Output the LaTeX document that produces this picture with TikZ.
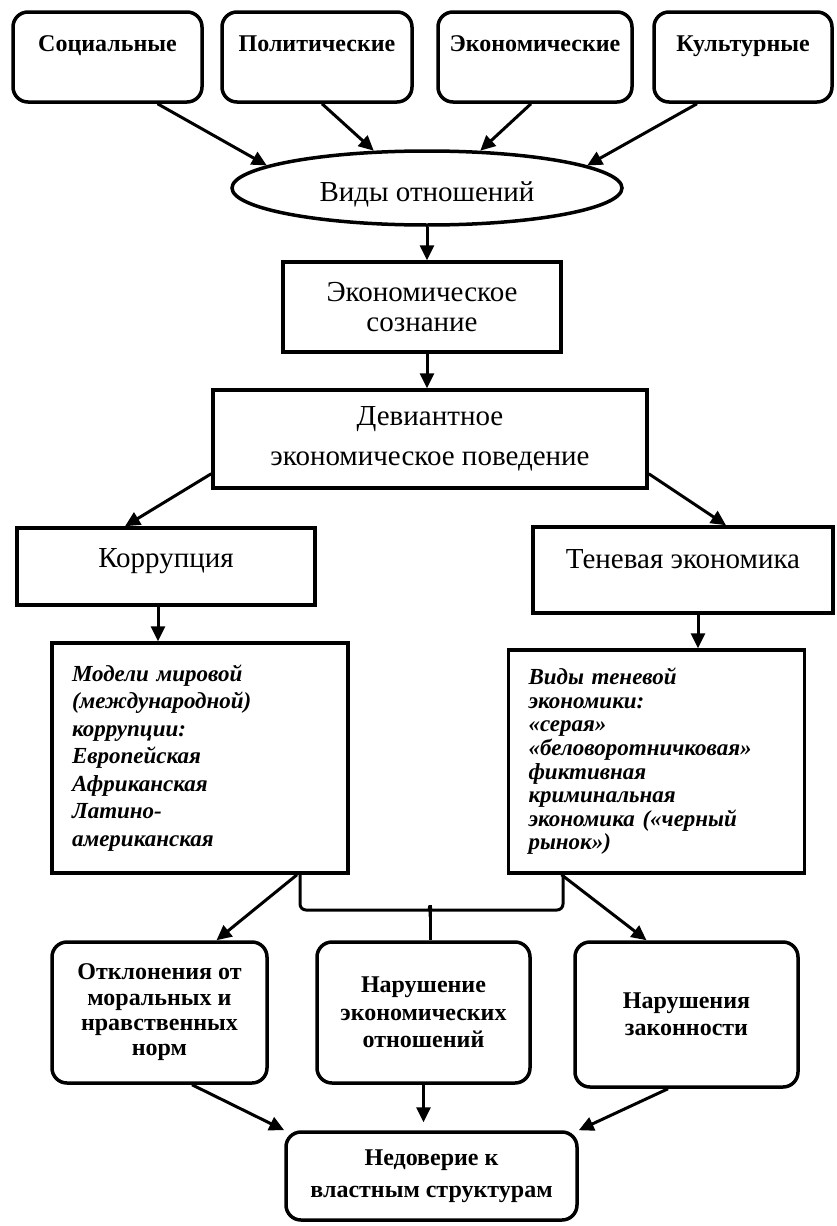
\documentclass[tikz,border=0pt]{standalone}
\usepackage{fontspec}
\setmainfont{Liberation Serif}
\usetikzlibrary{arrows.meta,shapes.geometric,calc}

\tikzset{
    topbox/.style={draw, line width=3.5pt, rounded corners=15pt, inner sep=0pt,
        font=\bfseries\fontsize{24}{26}\selectfont, text height=39pt, text depth=51pt},
    ovalbox/.style={draw, ellipse, line width=3.5pt, inner sep=0pt,
        minimum width=390pt, minimum height=74pt, font=\fontsize{29}{30}\selectfont},
    plainbox/.style={draw, line width=3.5pt, inner sep=0pt, align=center,
        font=\fontsize{29}{30}\selectfont},
    listbox/.style={draw, line width=3.5pt, inner xsep=20pt, inner ysep=0pt,
        text width=256pt, align=left},
    roundbox/.style={draw, line width=3.5pt, rounded corners=15pt, inner sep=0pt, align=center},
    arr/.style={line width=3pt, -{Triangle[length=15pt,width=14pt]}},
    conn/.style={line width=3pt}
}

\begin{document}
\begin{tikzpicture}[x=1pt, y=-1pt]
        \useasboundingbox (0,0) rectangle (837,1226);

        % Top row
        \node[topbox, minimum width=189pt] (soc) at (107.5,57) {Социальные};
        \node[topbox, minimum width=190pt] (pol) at (317,57) {Политические};
        \node[topbox, minimum width=194pt] (eco) at (535,57) {Экономические};
        \node[topbox, minimum width=178pt] (cul) at (743,57) {Культурные};

        % Middle column
        \node[ovalbox] (vid) at (427,188) {\raisebox{-13pt}[0pt][0pt]{Виды отношений}};
        \node[plainbox, minimum width=278pt, minimum height=90pt] (soz) at (422,307) {Экономическое\\сознание};
        \node[plainbox, minimum width=434pt, minimum height=98pt,
            font=\fontsize{29}{40}\selectfont] (dev) at (430,439) {Девиантное\\экономическое поведение};

        % Two branches
        \node[plainbox, minimum width=298pt, text height=39pt, text depth=38pt] (kor) at (166,566.5) {Коррупция};
        \node[plainbox, minimum width=300pt, text height=41pt, text depth=45pt] (ten) at (683,570) {Теневая экономика};

        \node[listbox, minimum height=230pt, font=\bfseries\itshape\fontsize{23}{27.5}\selectfont] (mod) at (200,758)
            {Модели мировой\\(международной)\\коррупции:\\Европейская\\Африканская\\Латино-\\американская};
        \node[listbox, minimum height=223pt, font=\bfseries\itshape\fontsize{23}{23.6}\selectfont] (vte) at (656.5,761.5)
            {Виды теневой\\экономики:\\«серая»\\«беловоротничковая»\\фиктивная\\криминальная\\экономика («черный\\рынок»)};

        % Consequences
        \node[roundbox, minimum width=215pt, minimum height=141pt,
            font=\bfseries\fontsize{24}{25.3}\selectfont] (otk) at (159.5,1012.5) {Отклонения от\\моральных и\\нравственных\\норм};
        \node[roundbox, minimum width=213pt, minimum height=141pt,
            font=\bfseries\fontsize{24}{27.7}\selectfont] (nar) at (423.5,1012.5) {Нарушение\\экономических\\отношений};
        \node[roundbox, minimum width=223pt, minimum height=145pt,
            font=\bfseries\fontsize{24}{27}\selectfont] (zak) at (686.5,1014.5) {Нарушения\\законности};
        \node[roundbox, minimum width=291pt, minimum height=88pt,
            font=\bfseries\fontsize{24}{32}\selectfont] (ned) at (431.5,1176) {Недоверие к\\властным структурам};

        % Arrows into the ellipse
        \draw[arr] ([xshift=50pt]soc.south) -- (vid.172);
        \draw[arr] ([xshift=5pt]pol.south) -- (vid.145);
        \draw[arr] ([xshift=-4pt]eco.south) -- (vid.35);
        \draw[arr] ([xshift=-46pt]cul.south) -- (vid.8);

        % Down the middle
        \draw[arr] (vid.south) -- (vid.south |- soz.north);
        \draw[arr] (vid.south |- soz.south) -- (vid.south |- dev.north);
        \draw[arr] ([yshift=16pt]dev.south west) -- ([xshift=-41pt]kor.north);
        \draw[arr] ([yshift=16pt]dev.south east) -- ([xshift=43pt]ten.north);
        \draw[arr] ([xshift=-8pt]kor.south) -- ([xshift=-42pt]mod.north);
        \draw[arr] ([xshift=15pt]ten.south) -- ([xshift=41.5pt]vte.north);

        % Brace joining both lists
        \coordinate (bt) at (430,905);
        \draw[conn, rounded corners=6pt] ([xshift=100pt]mod.south) |- ($(bt)+(-7,5)$)
            .. controls ($(bt)+(-2,5)$) and ($(bt)+(0,3)$) .. (bt)
            .. controls ($(bt)+(0,3)$) and ($(bt)+(2,5)$) .. ($(bt)+(7,5)$)
            -| ([xshift=-93.5pt]vte.south);
        \draw[conn] (bt) -- ([xshift=6.5pt]nar.north);

        % Lists to consequences
        \draw[arr] ([xshift=97pt]mod.south) -- ([xshift=57pt]otk.north);
        \draw[arr] ([xshift=-95pt]vte.south) -- ([xshift=-40pt]zak.north);

        % Consequences to the bottom box
        \draw[arr] ([xshift=32.5pt]otk.south) -- (ned.north west);
        \draw[arr, shorten >=8pt] (nar.south) -- (nar.south |- ned.north);
        \draw[arr] ([xshift=-18.5pt]zak.south) -- (ned.north east);
\end{tikzpicture}
\end{document}
